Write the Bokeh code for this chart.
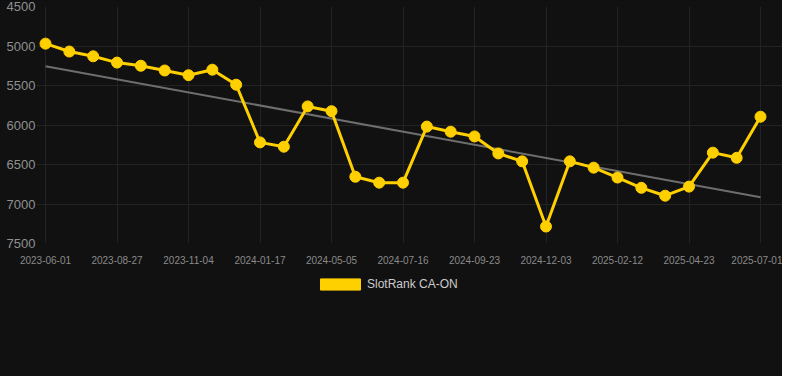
from bokeh.plotting import figure
from bokeh.layouts import column
from bokeh.models import Range1d, FixedTicker, Legend, LegendItem, ColumnDataSource
from bokeh.embed import file_html
from bokeh.resources import INLINE

dates = [
    "2023-06-01", "2023-06-30", "2023-07-29", "2023-08-27", "2023-09-19", "2023-10-12",
    "2023-11-04", "2023-11-29", "2023-12-23", "2024-01-17", "2024-02-21", "2024-03-28",
    "2024-05-05", "2024-05-28", "2024-06-22", "2024-07-16", "2024-08-08", "2024-08-31",
    "2024-09-23", "2024-10-17", "2024-11-10", "2024-12-03", "2024-12-27", "2025-01-20",
    "2025-02-12", "2025-03-08", "2025-03-31", "2025-04-23", "2025-05-13", "2025-06-07",
    "2025-07-01",
]
rank = [
    4970, 5070, 5130, 5210, 5250, 5310, 5370, 5300, 5490, 6220, 6275,
    5765, 5825, 6655, 6730, 6730, 6020, 6085, 6145, 6360, 6460,
    7285, 6460, 6540, 6665, 6795, 6895, 6780, 6350, 6415, 5895,
]
trend_values = [5255, 6915]
y_ticks = [4500, 5000, 5500, 6000, 6500, 7000, 7500]
series_name = "SlotRank CA-ON"

BG = "#111111"
YELLOW = "#FFD000"

idx = list(range(len(dates)))
label_idx = idx[::3]

p = figure(
    width=782, height=274, output_backend="svg", toolbar_location=None,
    x_range=Range1d(-0.378, 30.923), y_range=Range1d(7500, 4500),
    min_border_left=36, min_border_right=0, min_border_top=6, min_border_bottom=31,
    background_fill_color=BG, border_fill_color=BG, outline_line_color=None,
)

p.line([0, len(dates) - 1], trend_values, line_color="#6e6e6e", line_width=2)
src = ColumnDataSource(dict(x=idx, y=rank))
p.line("x", "y", source=src, line_color=YELLOW, line_width=3)
p.scatter("x", "y", source=src, size=11, fill_color=YELLOW, line_color=YELLOW)

p.xaxis.ticker = FixedTicker(ticks=label_idx)
p.xaxis.major_label_overrides = {i: dates[i] for i in label_idx}
p.yaxis.ticker = FixedTicker(ticks=y_ticks)

for ax in (p.xaxis, p.yaxis):
    ax.axis_line_color = None
    ax.major_tick_line_color = None
    ax.minor_tick_line_color = None
    ax.major_tick_out = 0
    ax.major_tick_in = 0
    ax.minor_tick_out = 0
    ax.minor_tick_in = 0
    ax.major_label_text_font = "Liberation Sans"
    ax.major_label_text_color = "#8a8a8a"
p.xaxis.major_label_text_font_size = "10px"
p.yaxis.major_label_text_font_size = "13px"
p.yaxis.major_label_text_color = "#909090"
p.xaxis.major_label_standoff = 12
p.yaxis.major_label_standoff = 1

p.xgrid.ticker = FixedTicker(ticks=label_idx)
p.ygrid.ticker = FixedTicker(ticks=y_ticks)
p.grid.grid_line_color = "#232323"
p.grid.grid_line_width = 1

# legend strip below the chart
lf = figure(
    width=782, height=102, output_backend="svg", toolbar_location=None,
    x_range=Range1d(0, 1), y_range=Range1d(0, 1),
    x_axis_location=None, y_axis_location=None,
    min_border=0, background_fill_color=BG, border_fill_color=BG,
    outline_line_color=None,
)
lf.grid.visible = False
swatch = lf.quad(left=[-5], right=[-4], top=[-4], bottom=[-5],
                 fill_color=YELLOW, line_color=YELLOW)
legend = Legend(
    items=[LegendItem(label=series_name, renderers=[swatch])],
    location=(279, 85), orientation="horizontal",
    background_fill_alpha=0, border_line_color=None,
    glyph_width=50, glyph_height=14, label_height=14, label_standoff=2,
    label_text_font="Liberation Sans", label_text_font_size="12px",
    label_text_color="#cccccc", padding=0, margin=0, spacing=0,
)
lf.add_layout(legend, "center")

layout = column(p, lf, spacing=0, background=BG)

open("out.html", "w").write(file_html(layout, INLINE))
